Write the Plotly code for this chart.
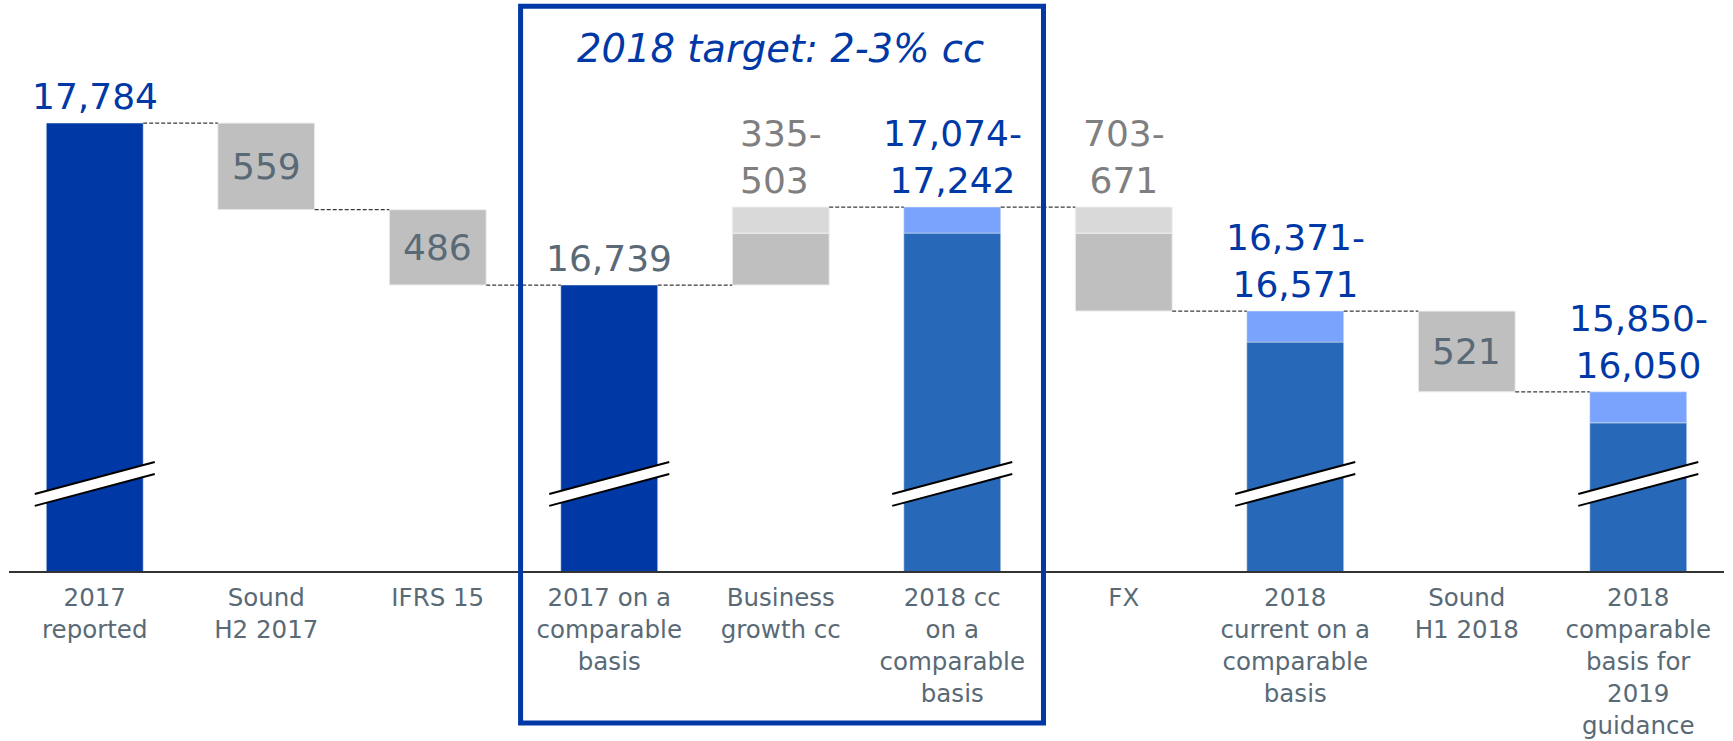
"""Revenue bridge 2017 -> 2019 guidance, waterfall with broken axis."""

import plotly.graph_objects as go

# ── Data ──────────────────────────────────────────────────────────────────────
categories = [
    "2017<br>reported", "Sound<br>H2 2017", "IFRS 15",
    "2017 on a<br>comparable<br>basis", "Business<br>growth cc",
    "2018 cc<br>on a<br>comparable<br>basis", "FX",
    "2018<br>current on a<br>comparable<br>basis", "Sound<br>H1 2018",
    "2018<br>comparable<br>basis for<br>2019<br>guidance",
]

reported_2017 = 17784
sound_h2_2017 = 559
ifrs_15 = 486
comparable_2017 = 16739
growth_range = [335, 503]
cc_2018_range = [17074, 17242]
fx_range = [703, 671]
current_2018_range = [16371, 16571]
sound_h1_2018 = 521
guidance_range = [15850, 16050]

# ── Style ─────────────────────────────────────────────────────────────────────
FONT = "DejaVu Sans"
DARK_BLUE = "#0039a6"
MID_BLUE = "#2769b8"
LIGHT_BLUE = "#79a3fc"
GRAY = "#bfbfbf"
LIGHT_GRAY = "#d9d9d9"
SLATE = "#596a76"
TEXT_GRAY = "#7f7f7f"
BAR_W = 0.565

Y_MIN, Y_MAX = 14894, 18578

x = list(range(len(categories)))

# running levels
after_h2 = reported_2017 - sound_h2_2017
after_ifrs = after_h2 - ifrs_15

fig = go.Figure()

# dark blue totals
fig.add_trace(go.Bar(
    x=[0, 3], y=[reported_2017, comparable_2017],
    marker_color=DARK_BLUE, width=BAR_W,
))
# mid blue totals (low end of range) + light band up to the high end
range_x = [5, 7, 9]
range_lows = [cc_2018_range[0], current_2018_range[0], guidance_range[0]]
range_highs = [cc_2018_range[1], current_2018_range[1], guidance_range[1]]
fig.add_trace(go.Bar(
    x=range_x, y=range_lows,
    marker_color=MID_BLUE, width=BAR_W,
))
fig.add_trace(go.Bar(
    x=range_x, y=[h - l for h, l in zip(range_highs, range_lows)],
    base=range_lows,
    marker_color=LIGHT_BLUE, width=BAR_W,
))

# gray decrease boxes
fig.add_trace(go.Bar(
    x=[1, 2, 8],
    y=[sound_h2_2017, ifrs_15, sound_h1_2018],
    base=[after_h2, after_ifrs, current_2018_range[1] - sound_h1_2018],
    marker=dict(color=GRAY, line=dict(color="#eeeeee", width=1)),
    width=BAR_W,
))

# growth / FX boxes: solid part + light range band on top
fig.add_trace(go.Bar(
    x=[4, 6],
    y=[cc_2018_range[0] - comparable_2017, cc_2018_range[0] - current_2018_range[1]],
    base=[comparable_2017, current_2018_range[1]],
    marker=dict(color=GRAY, line=dict(color="#eeeeee", width=1)),
    width=BAR_W,
))
fig.add_trace(go.Bar(
    x=[4, 6],
    y=[cc_2018_range[1] - cc_2018_range[0]] * 2,
    base=[cc_2018_range[0]] * 2,
    marker=dict(color=LIGHT_GRAY, line=dict(color="#eeeeee", width=1)),
    width=BAR_W,
))

# dashed connectors between bar edges
levels = [reported_2017, after_h2, after_ifrs, comparable_2017, cc_2018_range[1],
          cc_2018_range[1], current_2018_range[1], current_2018_range[1],
          guidance_range[1]]
cx, cy = [], []
for i, lvl in enumerate(levels):
    cx += [i + BAR_W / 2, i + 1 - BAR_W / 2, None]
    cy += [lvl, lvl, None]
fig.add_trace(go.Scatter(
    x=cx, y=cy, mode="lines",
    line=dict(color="#3a3a3a", width=1.3, dash="4px,2px"),
    hoverinfo="skip",
))

# ── Labels ────────────────────────────────────────────────────────────────────
def label(xi, yi, text, color, align="center"):
    fig.add_annotation(
        x=xi, y=yi, text=text, showarrow=False,
        xanchor="center", yanchor="bottom", yshift=4, align=align,
        font=dict(family=FONT, size=36, color=color),
    )


def fmt(v):
    return f"{v:,}"


label(0, reported_2017, fmt(reported_2017), DARK_BLUE)
label(3, comparable_2017, fmt(comparable_2017), SLATE)
label(4, cc_2018_range[1], f"{growth_range[0]}-<br>{growth_range[1]}", TEXT_GRAY, "left")
label(6, cc_2018_range[1], f"{fx_range[0]}-<br>{fx_range[1]}", TEXT_GRAY)
for xi, lo, hi in zip(range_x, range_lows, range_highs):
    label(xi, hi, f"{fmt(lo)}-<br>{fmt(hi)}", DARK_BLUE)

for xi, top, v in [(1, reported_2017, sound_h2_2017), (2, after_h2, ifrs_15),
                   (8, current_2018_range[1], sound_h1_2018)]:
    fig.add_annotation(
        x=xi, y=top - v / 2, text=str(v), showarrow=False,
        xanchor="center", yanchor="middle",
        font=dict(family=FONT, size=36, color=SLATE),
    )

fig.add_annotation(
    x=4, y=0.915, yref="paper", text="<i>2018 target: 2-3% cc</i>", showarrow=False,
    xanchor="center", yanchor="middle",
    font=dict(family=FONT, size=38.5, color=DARK_BLUE),
)

# ── Shapes: axis-break marks and target frame ────────────────────────────────
shapes = []
for xi in [0, 3] + range_x:
    x0, x1 = xi - 0.35, xi + 0.35
    shapes.append(dict(
        type="path", xref="x", yref="paper", layer="above",
        path=f"M {x0},0.114 L {x1},0.170 L {x1},0.191 L {x0},0.135 Z",
        fillcolor="white", line=dict(width=0),
    ))
    for ya, yb in [(0.135, 0.191), (0.114, 0.170)]:
        shapes.append(dict(
            type="line", xref="x", yref="paper", layer="above",
            x0=x0, y0=ya, x1=x1, y1=yb,
            line=dict(color="black", width=2),
        ))
shapes.append(dict(
    type="rect", xref="x", yref="paper", layer="above",
    x0=2.483, x1=5.532, y0=-0.266, y1=0.989,
    line=dict(color=DARK_BLUE, width=5),
))

fig.update_layout(
    width=1733, height=741,
    margin=dict(l=9, r=9, t=0, b=170),
    paper_bgcolor="white", plot_bgcolor="white",
    barmode="overlay", showlegend=False,
    font=dict(family=FONT),
    xaxis=dict(
        range=[-0.5, 9.5], tickvals=x, ticktext=categories,
        showline=True, linecolor="#333333", linewidth=2,
        showgrid=False, zeroline=False, ticks="",
        tickfont=dict(family=FONT, size=24.5, color=SLATE),
        ticklabelstandoff=4, automargin=False,
        fixedrange=True,
    ),
    yaxis=dict(range=[Y_MIN, Y_MAX], visible=False, fixedrange=True),
    shapes=shapes,
)

# drop the default 8px page margin so the figure fills the window exactly
fig.write_html(
    "out.html",
    config={"displayModeBar": False},
    post_script="document.body.style.margin='0';",
)
